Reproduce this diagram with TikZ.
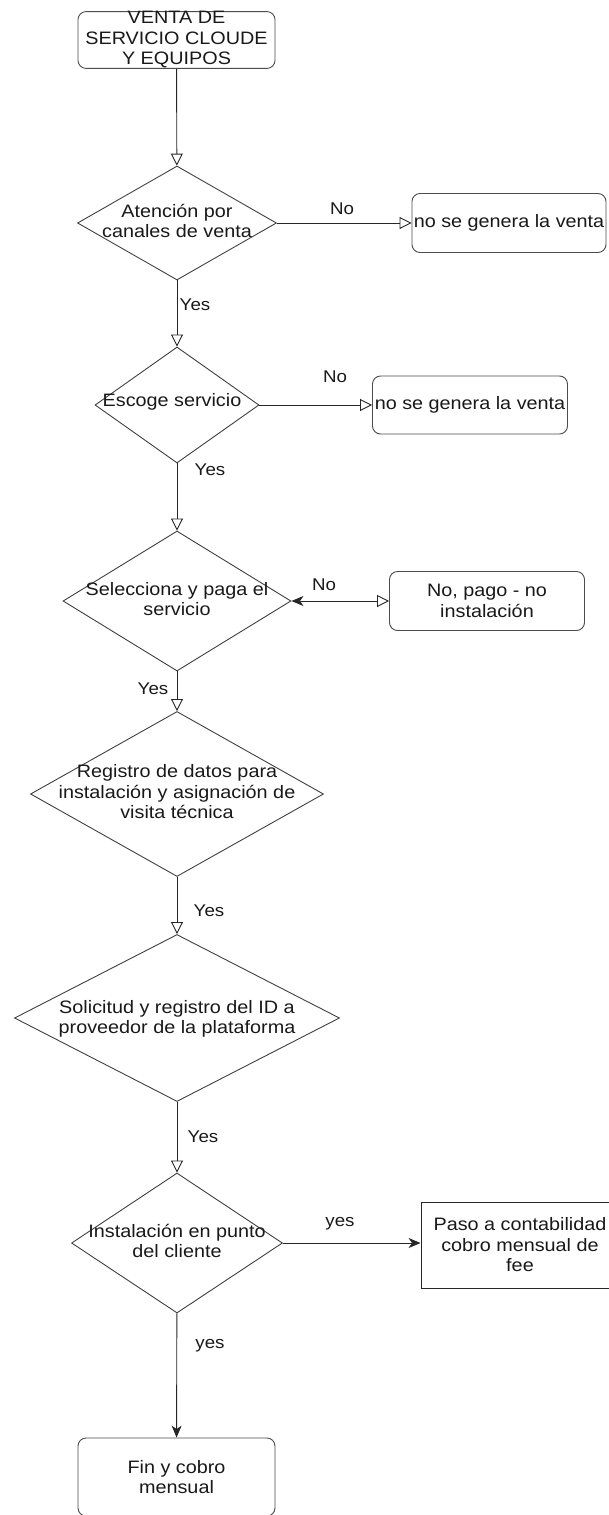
\documentclass[tikz,border=0pt]{standalone}
\usepackage{fontspec}
\setmainfont[FakeStretch=1.1]{Liberation Sans}
\usetikzlibrary{shapes.geometric,arrows.meta}
\begin{document}
\begin{tikzpicture}[x=1pt,y=-1pt,
  txt/.style={font=\fontsize{18}{20.5}\selectfont, align=center, text=black!90, inner sep=0pt},
  lbl/.style={font=\fontsize{17}{19}\selectfont, text=black!90, inner sep=0pt},
  rbox/.style={rectangle, rounded corners=8pt, draw=black!70, line width=0.9pt, fill=white, txt},
  sbox/.style={rectangle, draw=black!85, line width=0.9pt, fill=white, txt},
  dia/.style={diamond, draw=black!75, line width=0.9pt, inner sep=0pt, fill=white},
  conn/.style={draw=black!85, line width=0.9pt},
  opentip/.style={-{Triangle[open, length=12pt, width=12pt, line width=0.9pt]}},
  filltip/.style={-{Stealth[length=12pt, width=10pt, inset=3.5pt]}}
]
\useasboundingbox (0,0) rectangle (608,1515);

% nodes
\node[rbox, minimum width=197pt, minimum height=56pt] (start) at (176.5,40) {VENTA DE\\SERVICIO CLOUDE\\Y EQUIPOS};

\node[dia, minimum width=199pt, minimum height=114pt] (d1) at (177,223) {};
\node[txt] (d1t) at (177,221) {Atención por\\canales de venta};
\node[rbox, minimum width=194pt, minimum height=59pt] (n1) at (509,223) {no se genera la venta};

\node[dia, minimum width=164pt, minimum height=116pt] (d2) at (177,405) {};
\node[txt] (d2t) at (172,402) {Escoge servicio};
\node[rbox, minimum width=195pt, minimum height=58pt] (n2) at (470,405) {no se genera la venta};

\node[dia, minimum width=228pt, minimum height=140pt] (d3) at (177,601) {};
\node[txt] (d3t) at (177,599) {Selecciona y paga el\\servicio};
\node[rbox, minimum width=195pt, minimum height=59pt] (n3) at (487,601) {No, pago - no\\instalación};

\node[dia, minimum width=293pt, minimum height=165pt] (d4) at (177,794) {};
\node[txt] (d4t) at (177,792) {Registro de datos para\\instalación y asignación de\\visita técnica};

\node[dia, minimum width=325pt, minimum height=167pt] (d5) at (177,1018) {};
\node[txt] (d5t) at (177,1019) {Solicitud y registro del ID a\\proveedor de la plataforma};

\node[dia, minimum width=211pt, minimum height=140pt] (d6) at (177,1243) {};
\node[txt] (d6t) at (177,1241) {Instalación en punto\\del cliente};
\node[sbox, minimum width=198pt, minimum height=86pt] (n6) at (520,1245) {Paso a contabilidad\\cobro mensual de\\fee};

\node[rbox, minimum width=197pt, minimum height=78pt] (fin) at (176.5,1477) {Fin y cobro\\mensual};

% connectors
\draw[conn, opentip] (start) -- (d1);
\draw[conn, opentip] (d1) -- (n1);
\draw[conn, opentip] (d1) -- (d2);
\draw[conn, opentip] (d2) -- (n2);
\draw[conn, opentip] (d2) -- (d3);
\draw[conn, {Triangle[open, length=12pt, width=12pt, line width=0.9pt]}-{Stealth[length=12pt, width=10pt, inset=3.5pt]}] (n3) -- (d3);
\draw[conn, opentip] (d3) -- (d4);
\draw[conn, opentip] (d4) -- (d5);
\draw[conn, opentip] (d5) -- (d6);
\draw[conn, filltip] (d6.east) -- (d6.east -| n6.west);
\draw[conn, filltip] (d6) -- (fin);

% labels
\node[lbl] (l1) at (342,209) {No};
\node[lbl] (l2) at (335,377) {No};
\node[lbl] (l3) at (324,585) {No};
\node[lbl] (y1) at (195,305) {Yes};
\node[lbl] (y2) at (210,470) {Yes};
\node[lbl] (y3) at (153,689) {Yes};
\node[lbl] (y4) at (209,911) {Yes};
\node[lbl] (y5) at (203,1137) {Yes};
\node[lbl] (y6) at (340,1224) {yes};
\node[lbl] (y7) at (210,1346) {yes};
\end{tikzpicture}
\end{document}
